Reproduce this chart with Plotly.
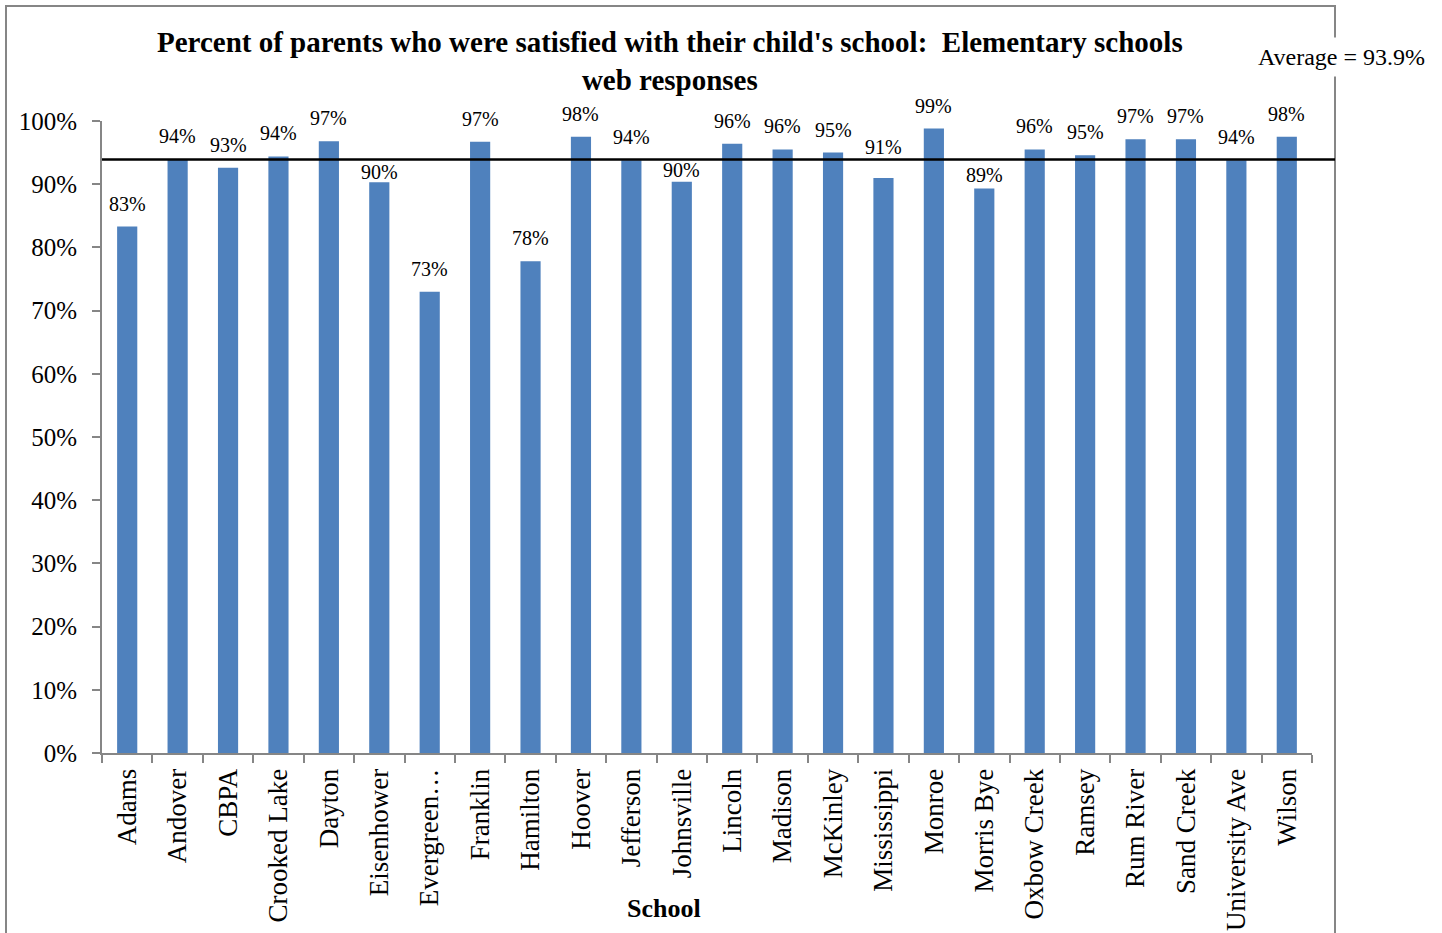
import plotly.graph_objects as go

schools = ["Adams", "Andover", "CBPA", "Crooked Lake", "Dayton", "Eisenhower", "Evergreen…",
           "Franklin", "Hamilton", "Hoover", "Jefferson", "Johnsville", "Lincoln", "Madison",
           "McKinley", "Mississippi", "Monroe", "Morris Bye", "Oxbow Creek", "Ramsey",
           "Rum River", "Sand Creek", "University Ave", "Wilson"]
satisfied = [0.833, 0.940, 0.926, 0.944, 0.968, 0.903, 0.730,
             0.967, 0.778, 0.975, 0.938, 0.904, 0.964, 0.955,
             0.950, 0.910, 0.988, 0.893, 0.955, 0.946,
             0.971, 0.971, 0.938, 0.975]
average = 0.939
y_ticks = [0, 0.1, 0.2, 0.3, 0.4, 0.5, 0.6, 0.7, 0.8, 0.9, 1.0]
y_tick_labels = ["0%", "10%", "20%", "30%", "40%", "50%", "60%", "70%", "80%", "90%", "100%"]

# label placement tweaks (pixels) for labels moved off the average line
label_shift = {"Eisenhower": -3, "Johnsville": -1, "Mississippi": 18, "Morris Bye": 1}
DEFAULT_SHIFT = 10

W, H = 1442, 933
L, R, T, B = 102, 1312, 121, 753
pw, ph = R - L, B - T

def px(x):
    return (x - L) / pw

def py(y):
    return (B - y) / ph

FONT = "Liberation Serif, Times New Roman, serif"
GRAY = "#868686"

fig = go.Figure()
fig.add_trace(go.Bar(
    x=schools, y=satisfied,
    marker=dict(color="#4F81BD", line=dict(width=0)),
    hoverinfo="x+y",
))

# data labels
for s, v in zip(schools, satisfied):
    fig.add_annotation(x=s, y=v, xref="x", yref="y", text=f"{round(v*100):d}%",
                       showarrow=False, yanchor="bottom", xanchor="center",
                       yshift=label_shift.get(s, DEFAULT_SHIFT),
                       font=dict(family=FONT, size=20, color="black"))

# chart-area border
fig.add_shape(type="rect", xref="paper", yref="paper",
              x0=px(6), x1=px(1335), y0=py(945), y1=py(6),
              line=dict(color=GRAY, width=2), fillcolor="rgba(0,0,0,0)", layer="below")
# average line
fig.add_shape(type="line", xref="paper", yref="y",
              x0=0, x1=px(1335), y0=average, y1=average,
              line=dict(color="black", width=2.5))

fig.add_annotation(xref="paper", yref="paper", x=px(1341), y=py(57),
                   text=f"Average = {average*100:.1f}%", showarrow=False,
                   font=dict(family=FONT, size=24, color="black"),
                   bgcolor="white", xanchor="center", yanchor="middle", borderpad=6)
fig.add_annotation(xref="paper", yref="paper", x=px(670), y=py(61),
                   text="<b>Percent of parents who were satisfied with their child's school:  Elementary schools<br>web responses</b>",
                   showarrow=False, font=dict(family=FONT, size=29, color="black"),
                   xanchor="center", yanchor="middle", align="center")
fig.add_annotation(xref="paper", yref="paper", x=px(664), y=py(908),
                   text="<b>School</b>", showarrow=False,
                   font=dict(family=FONT, size=26, color="black"),
                   xanchor="center", yanchor="middle")

fig.update_layout(
    width=W, height=H,
    margin=dict(l=L, r=W - R, t=T, b=H - B, pad=0, autoexpand=False),
    paper_bgcolor="white", plot_bgcolor="white",
    bargap=0.6, showlegend=False,
    font=dict(family=FONT, color="black"),
)
fig.update_xaxes(type="category", tickangle=-90, tickfont=dict(family=FONT, size=27, color="black"),
                 showline=True, linecolor=GRAY, linewidth=2, ticks="outside", tickson="boundaries",
                 ticklen=8, tickcolor=GRAY, tickwidth=2, showgrid=False, ticklabelstandoff=3,
                 automargin=False)
fig.update_yaxes(range=[0, 1], tickvals=y_ticks, ticktext=y_tick_labels,
                 tickfont=dict(family=FONT, size=25, color="black"),
                 showline=True, linecolor=GRAY, linewidth=2, ticks="outside", ticklen=8,
                 tickcolor=GRAY, tickwidth=2, showgrid=False, zeroline=False, ticklabelstandoff=10,
                 automargin=False)

fig.write_html("out.html", config={"displayModeBar": False},
               post_script="document.body.style.margin='0';document.body.style.overflow='hidden';")
